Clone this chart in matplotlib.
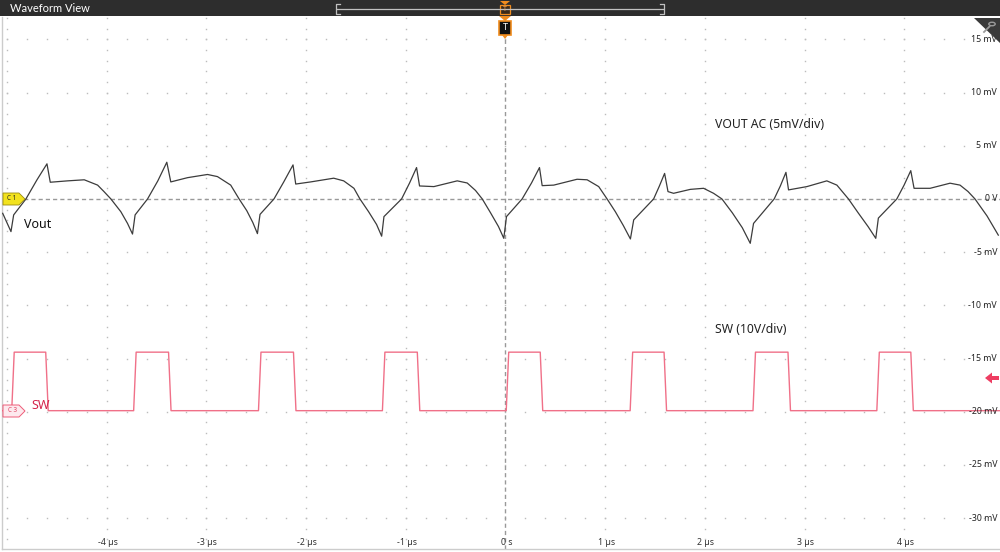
import matplotlib
matplotlib.use('Agg')
import matplotlib.pyplot as plt
import numpy as np
from matplotlib.patches import Polygon, Rectangle, Circle

plt.rcParams['font.family'] = ['Noto Sans', 'DejaVu Sans']

# ---------------- data ----------------
vout_t_us = [-5.043, -4.960, -4.933, -4.810, -4.699, -4.599, -4.566, -4.392, -4.225, -4.091,
             -4.028, -3.958, -3.858, -3.791, -3.741, -3.715, -3.590, -3.487, -3.397, -3.357,
             -3.189, -2.989, -2.889, -2.756, -2.672, -2.595, -2.535, -2.488, -2.462, -2.322,
             -2.224, -2.131, -2.104, -1.954, -1.723, -1.623, -1.520, -1.460, -1.373, -1.293,
             -1.242, -1.219, -1.042, -0.962, -0.892, -0.862, -0.718, -0.484, -0.384, -0.301,
             -0.233, -0.150, -0.070, -0.017, 0.010, 0.167, 0.261, 0.341, 0.368, 0.484,
             0.718, 0.819, 0.935, 1.019, 1.102, 1.182, 1.253, 1.286, 1.486, 1.543,
             1.596, 1.630, 1.686, 1.854, 1.987, 2.087, 2.171, 2.275, 2.375, 2.455,
             2.488, 2.695, 2.756, 2.813, 2.839, 3.023, 3.223, 3.324, 3.440, 3.537,
             3.637, 3.714, 3.740, 3.925, 3.998, 4.065, 4.098, 4.259, 4.459, 4.559,
             4.639, 4.709, 4.830, 4.943]
vout_mV = [-1.35, -3.07, -1.5, 0.0, 1.8, 3.3, 1.57, 1.7, 1.8, 1.3,
           0.7, 0.0, -1.2, -2.3, -3.3, -1.5, 0.0, 1.7, 3.45, 1.6,
           2.0, 2.3, 2.1, 1.3, 0.0, -1.1, -2.2, -3.26, -1.45, 0.0,
           1.6, 3.2, 1.4, 1.6, 1.95, 1.7, 1.0, 0.0, -1.2, -2.4,
           -3.5, -1.66, 0.0, 1.5, 2.95, 1.22, 1.16, 1.7, 1.5, 0.8,
           0.0, -1.3, -2.6, -3.7, -1.66, 0.0, 1.5, 2.95, 1.25, 1.3,
           1.85, 1.8, 1.16, 0.0, -1.2, -2.5, -3.76, -1.97, 0.0, 1.2,
           2.4, 0.69, 0.53, 0.9, 1.0, 0.53, 0.0, -1.3, -2.7, -4.17,
           -2.3, 0.0, 1.2, 2.5, 0.85, 1.16, 1.7, 1.3, 0.0, -1.3,
           -2.6, -3.7, -1.8, 0.0, 1.3, 2.66, 1.0, 1.0, 1.48, 1.3,
           0.7, 0.0, -1.6, -3.4]

sw_rise_us = [-4.940, -3.717, -2.465, -1.222, 0.020, 1.263, 2.495, 3.737]
sw_fall_us = [-4.599, -3.367, -2.114, -0.872, 0.361, 1.603, 2.846, 4.078]
sw_high_mV = -14.4
sw_low_mV = -19.9
sw_edge_us = 0.025

x_tick_us = [-4, -3, -2, -1, 0, 1, 2, 3, 4]
x_tick_labels = ['-4 µs', '-3 µs', '-2 µs', '-1 µs', '0 s', '1 µs', '2 µs', '3 µs', '4 µs']
y_tick_mV = [15, 10, 5, 0, -5, -10, -15, -20, -25, -30]
y_tick_labels = ['15 mV', '10 mV', '5 mV', '0 V', '-5 mV', '-10 mV', '-15 mV', '-20 mV', '-25 mV', '-30 mV']

x_lim = (-5.05, 4.96)
y_lim = (-32.9, 17.1)

# ---------------- figure ----------------
W, H = 1000, 552
fig = plt.figure(figsize=(W / 100, H / 100), dpi=100)
fig.patch.set_facecolor('white')


def fx(px):
    return px / W


def fy(py):
    return 1 - py / H


ax = fig.add_axes([fx(2), fy(549), fx(1000) - fx(2), fy(17) - fy(549)])
ax.set_xlim(*x_lim)
ax.set_ylim(*y_lim)
ax.set_xticks([])
ax.set_yticks([])
for s in ['top', 'right']:
    ax.spines[s].set_visible(False)
for s in ['left', 'bottom']:
    ax.spines[s].set_color('#cccccc')
    ax.spines[s].set_linewidth(1.0)

dot_kw = dict(linestyle='none', marker='s', markersize=1.0, color='#bcbcbc',
              markeredgewidth=0, zorder=1)
# vertical graticule lines (dots every 0.2 div)
ydots = np.arange(-32, 17.5, 1.0)
for tv in range(-5, 5):
    if tv == 0:
        continue
    ax.plot(np.full_like(ydots, tv), ydots, **dot_kw)
# horizontal graticule lines
xdots = np.arange(-5, 5.0, 0.2)
for mv in y_tick_mV:
    if mv == 0:
        continue
    ax.plot(xdots, np.full_like(xdots, mv), **dot_kw)

# dashed zero lines
ax.axhline(0, color='#999999', lw=1.0, ls=(0, (3, 2.2)), zorder=2)
ax.axvline(0, color='#999999', lw=1.0, ls=(0, (3, 2.2)), zorder=2)

# SW trace
sw_t = [x_lim[0]]
sw_v = [sw_low_mV]
for r, f in zip(sw_rise_us, sw_fall_us):
    sw_t += [r - sw_edge_us / 2, r + sw_edge_us / 2, f - sw_edge_us / 2, f + sw_edge_us / 2]
    sw_v += [sw_low_mV, sw_high_mV, sw_high_mV, sw_low_mV]
sw_t.append(x_lim[1])
sw_v.append(sw_low_mV)
ax.plot(sw_t, sw_v, color='#f07088', lw=1.0, zorder=3)

# Vout trace
ax.plot(vout_t_us, vout_mV, color='#3c3c3c', lw=0.9, zorder=4)

# tick labels
for t, lab in zip(x_tick_us, x_tick_labels):
    ax.text(t + 0.01, -32.3, lab, ha='center', va='center', fontsize=6.3, color='#333333', zorder=6)
for v, lab in zip(y_tick_mV, y_tick_labels):
    ax.text(4.93, v, lab, ha='right', va='center', fontsize=6.3, color='#222222',
            fontweight='semibold', zorder=6)

# annotations
ax.text(2.105, 6.95, 'VOUT AC (5mV/div)', ha='left', va='center', fontsize=8.8, color='#222222')
ax.text(2.105, -12.3, 'SW (10V/div)', ha='left', va='center', fontsize=8.8, color='#222222')
ax.text(-4.83, -2.44, 'Vout', ha='left', va='center', fontsize=9, color='#111111')
ax.text(-4.76, -19.45, 'SW', ha='left', va='center', fontsize=9, color='#d4244c')

# ---------------- decorations (pixel space) ----------------
tf = fig.transFigure


def poly(pts, **kw):
    p = Polygon([(fx(x), fy(y)) for x, y in pts], closed=True, transform=tf, **kw)
    fig.patches.append(p)
    return p


# title bar
fig.patches.append(Rectangle((0, fy(16)), 1, fy(0) - fy(16), transform=tf,
                             facecolor='#2d2d2d', edgecolor='none'))
fig.text(fx(10), fy(8.5), 'Waveform View', color='white', fontsize=8,
         family=['Lato', 'DejaVu Sans'], va='center', ha='left')

# timeline bracket in title bar
fig.add_artist(plt.Line2D([fx(337), fx(663)], [fy(9), fy(9)], transform=tf, color='#c0c0c0', lw=0.9))
for xb, d in [(336, 4), (664, -4)]:
    fig.add_artist(plt.Line2D([fx(xb + d), fx(xb), fx(xb), fx(xb + d)],
                              [fy(4), fy(4), fy(14), fy(14)], transform=tf, color='#c0c0c0', lw=0.9))
poly([(500, 1), (510, 1), (505, 5)], facecolor='#f08c1e', edgecolor='none')
fig.patches.append(Rectangle((fx(500), fy(14)), fx(10), fy(5) - fy(14), transform=tf,
                             facecolor='#3a2a1a', edgecolor='#f08c1e', lw=0.9))
fig.text(fx(505), fy(9.5), 'T', color='#f0a050', fontsize=5, ha='center', va='center', fontweight='bold')

# trigger marker
poly([(499, 16), (511, 16), (505, 21)], facecolor='#f08c1e', edgecolor='none')
fig.patches.append(Rectangle((fx(498.5), fy(35)), fx(13), fy(21) - fy(35), transform=tf,
                             facecolor='#111111', edgecolor='#f08c1e', lw=1.2))
fig.text(fx(505), fy(28), 'T', color='white', fontsize=6.5, ha='center', va='center', fontweight='bold')
poly([(502, 35), (508, 35), (505, 39)], facecolor='#f08c1e', edgecolor='none')

# top-right zoom corner
poly([(974, 18), (1000, 18), (1000, 43)], facecolor='#3a3a3a', edgecolor='none')
fig.patches.append(Circle((fx(992), fy(24)), fx(3.2), transform=tf, facecolor='none',
                          edgecolor='#9a9a9a', lw=1.0))
fig.add_artist(plt.Line2D([fx(989.5), fx(984)], [fy(26.5), fy(32)], transform=tf, color='#9a9a9a', lw=1.3))

# channel markers
poly([(3, 193), (19, 193), (25, 199), (19, 205), (3, 205)], facecolor='#f2e21e',
     edgecolor='#9a8c10', lw=0.6)
fig.text(fx(12), fy(199), 'C 1', fontsize=4.5, color='#222222', ha='center', va='center')
poly([(3, 405), (19, 405), (25, 411), (19, 417), (3, 417)], facecolor='#fde9ee',
     edgecolor='#ee5c78', lw=0.7)
fig.text(fx(12), fy(411), 'C 3', fontsize=4.5, color='#e0405f', ha='center', va='center')

# SW offset arrow at right
poly([(985, 378), (992, 372.5), (992, 383.5)], facecolor='#ee3d62', edgecolor='none')
fig.patches.append(Rectangle((fx(991), fy(379.6)), fx(7.5), fy(376.4) - fy(379.6), transform=tf,
                             facecolor='#ee3d62', edgecolor='none'))

fig.savefig('out.png', dpi=100)
